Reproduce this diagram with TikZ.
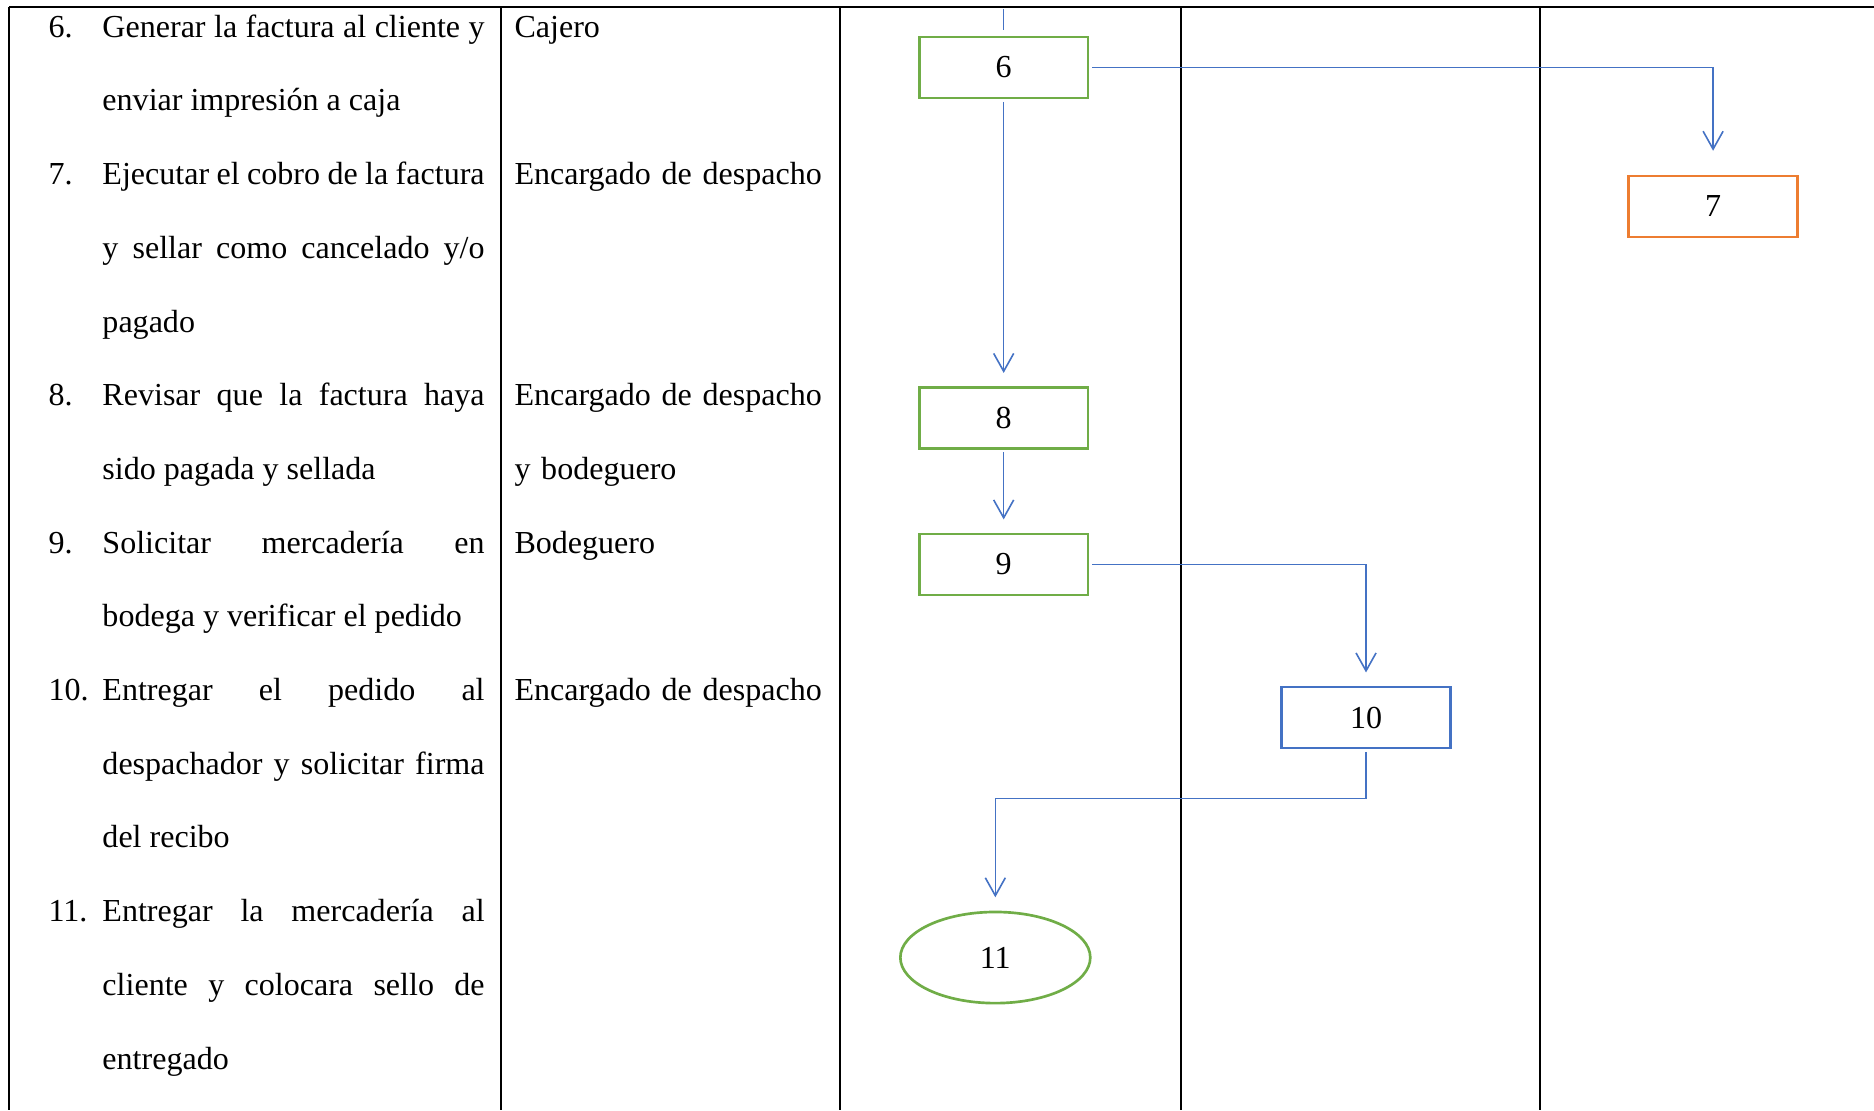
\documentclass[tikz,border=0pt]{standalone}
\usepackage{fontspec}
\setmainfont{Liberation Serif}
\usetikzlibrary{arrows.meta,shapes.geometric}
\definecolor{lineblue}{HTML}{4472C4}
\definecolor{boxgreen}{HTML}{70AD47}
\definecolor{boxorange}{HTML}{ED7D31}
\newcommand{\stepno}[1]{\makebox[20.2pt][l]{#1}\hangindent=20.2pt\hangafter=1\relax}
\hbadness=10000
\tikzset{
  tabline/.style={line width=0.75pt},
  item/.style={anchor=base west,inner sep=0pt,text width=163.3pt,align=justify,font=\fontsize{12}{27.6}\selectfont},
  who/.style={anchor=base west,inner sep=0pt,text width=120pt,align=left,font=\fontsize{12}{27.6}\selectfont},
  stepbox/.style={draw=#1,line width=1pt,minimum width=2.22cm,minimum height=0.80cm,inner sep=0pt,font=\fontsize{12}{14}\selectfont},
  endbox/.style={ellipse,draw=#1,line width=1pt,minimum width=2.50cm,minimum height=1.20cm,inner sep=0pt,font=\fontsize{12}{14}\selectfont},
  flow/.style={-{Straight Barb[length=6.7pt,width=7.5pt]},lineblue,line width=0.6pt,shorten >=5pt,shorten <=1pt},
}
\begin{document}
\begin{tikzpicture}
\useasboundingbox (0,0) rectangle (24.665,-14.610);
% table frame
\draw[tabline] (0.118,-0.092) -- (24.665,-0.092);
\foreach \x in {0.118,6.588,11.056,15.544,20.263}
  \draw[tabline] (\x,-0.092) -- (\x,-14.610);
% activities
\node[item] (a6)  at (0.632,-0.49)  {\stepno{6.}Generar la factura al cliente y\linebreak enviar impresión a caja\par};
\node[item] (a7)  at (0.632,-2.43)  {\stepno{7.}Ejecutar el cobro de la factura\linebreak y sellar como cancelado y/o\linebreak pagado\par};
\node[item] (a8)  at (0.632,-5.34)  {\stepno{8.}Revisar que la factura haya\linebreak sido pagada y sellada\par};
\node[item] (a9)  at (0.632,-7.28)  {\stepno{9.}Solicitar mercadería en\linebreak bodega y verificar el pedido\par};
\node[item] (a10) at (0.632,-9.22)  {\stepno{10.}Entregar el pedido al\linebreak despachador y solicitar firma\linebreak del recibo\par};
\node[item] (a11) at (0.632,-12.13) {\stepno{11.}Entregar la mercadería al\linebreak cliente y colocara sello de\linebreak entregado\par};
% responsables
\node[who] (r6) at (6.765,-0.49) {Cajero};
\node[who] (r7) at (6.765,-2.43) {Encargado de despacho};
\node[who] (r8) at (6.765,-5.34) {Encargado de despacho\\y bodeguero};
\node[who] (r9) at (6.765,-7.28) {Bodeguero};
\node[who] (r10) at (6.765,-9.22) {Encargado de despacho};
% flow
\coordinate (in6) at (13.21,-0.118);
\node[stepbox=boxgreen] (b6) at (13.21,-0.888) {6};
\node[stepbox=boxorange] (b7) at (22.547,-2.718) {7};
\node[stepbox=boxgreen] (b8) at (13.21,-5.502) {8};
\node[stepbox=boxgreen] (b9) at (13.21,-7.430) {9};
\node[stepbox=lineblue] (b10) at (17.979,-9.444) {10};
\node[endbox=boxgreen] (e11) at (13.10,-12.603) {11};
\draw[lineblue,line width=0.6pt,shorten >=2.2pt] (in6) -- (b6.north);
\draw[flow,shorten >=9pt] (b6.east) -| (b7.north);
\draw[flow] (b6.south) -- (b8.north);
\draw[flow] (b8.south) -- (b9.north);
\draw[flow] (b9.east) -| (b10.north);
\draw[flow] (b10.south) -- ++(0,-0.65) -| (e11.north);
\end{tikzpicture}
\end{document}
